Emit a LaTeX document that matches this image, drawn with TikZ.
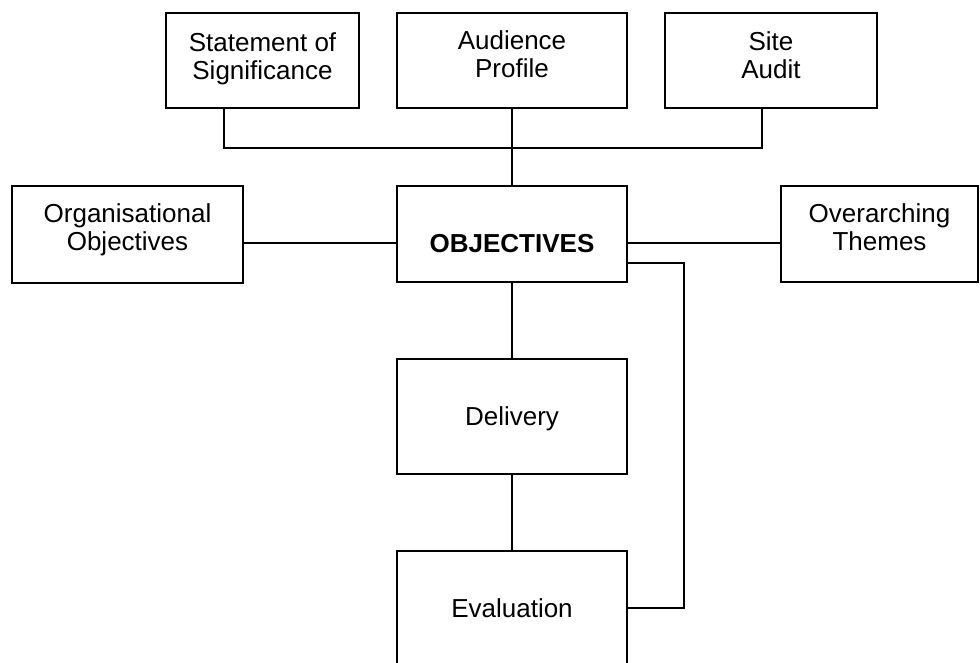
\documentclass[tikz,border=0pt]{standalone}
\usepackage{fontspec}
\setmainfont{Liberation Sans}
\usetikzlibrary{positioning}

\begin{document}
\begin{tikzpicture}[x=1pt,y=-1pt,
  box/.style={draw, line width=1.6pt, inner sep=0pt},
  txt/.style={align=center, inner sep=0pt, font=\fontsize{26}{28}\selectfont},
  link/.style={line width=1.6pt}]

\useasboundingbox (0,0) rectangle (980,662);

% top row
\node[box, minimum width=193, minimum height=95,
  label={[txt, yshift=2pt]center:{Statement of\\Significance}}] (sig) at (262.5,60.5) {};
\node[box, minimum width=230, minimum height=95,
  label={[txt, yshift=6pt]center:{Audience\\Profile}}] (aud) at (512,60.5) {};
\node[box, minimum width=212, minimum height=95,
  label={[txt, yshift=5pt]center:{Site\\Audit}}] (site) at (771,60.5) {};

% middle row
\node[box, minimum width=231, minimum height=97,
  label={[txt, yshift=5pt]center:{Organisational\\Objectives}}] (org) at (127.5,234.5) {};
\node[box, minimum width=230, minimum height=96,
  label={[txt, yshift=-9.5pt]center:{\bfseries OBJECTIVES}}] (obj) at (512,234) {};
\node[box, minimum width=197, minimum height=96,
  label={[txt, yshift=6.5pt]center:{Overarching\\Themes}}] (over) at (879.5,234) {};

% delivery and evaluation
\node[box, minimum width=230, minimum height=115,
  label={[txt, yshift=-2pt]center:Delivery}] (del) at (512,416.5) {};
\node[box, minimum width=230, minimum height=114,
  label={[txt]center:Evaluation}] (eval) at (512,608) {};

% helper points for the connectors
\coordinate (busl) at (224,148);
\coordinate (busr) at (762,148);
\coordinate (spine) at (512,243);
\coordinate (loop) at (684,263);

% inputs from the top row
\draw[link] (busl |- sig.south) -- (busl) -- (busr) -- (busr |- site.south);
\draw[link] (aud) -- (obj);

% side links
\draw[link] (org.east |- spine) -- (obj.west |- spine);
\draw[link] (obj.east |- spine) -- (over.west |- spine);

% down the chain
\draw[link] (obj) -- (del);
\draw[link] (del) -- (eval);

% feedback from evaluation
\draw[link] (obj.east |- loop) -| (eval.east -| loop) -- (eval.east);

\end{tikzpicture}
\end{document}
